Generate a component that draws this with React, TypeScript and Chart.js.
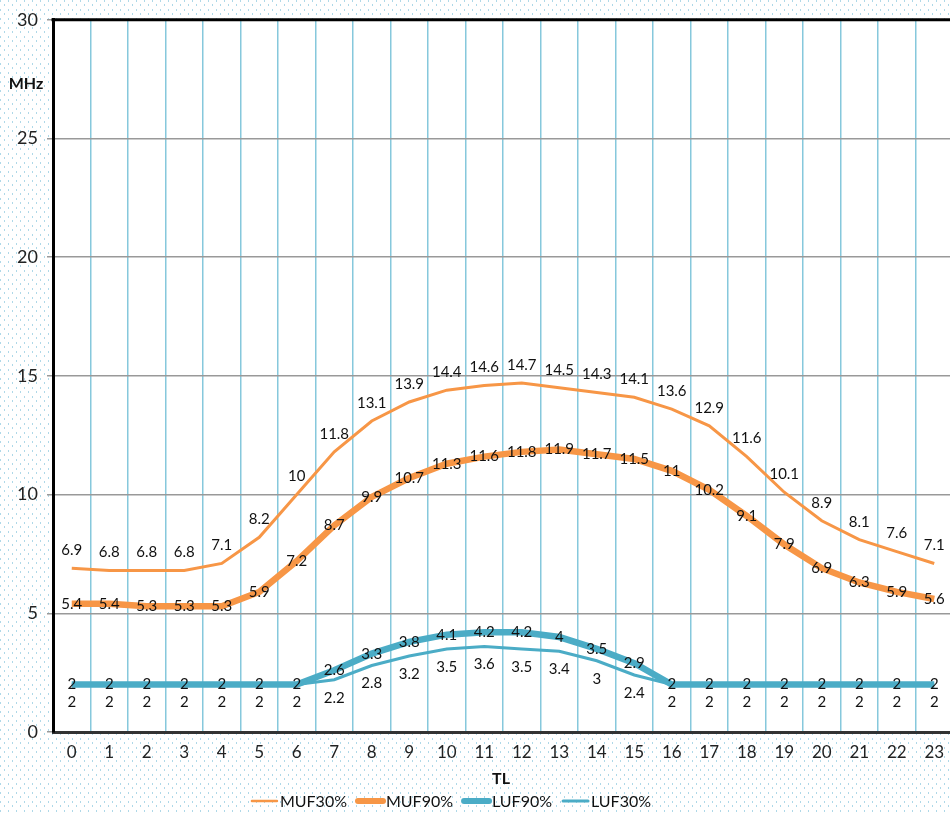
import React, { useEffect, useRef } from "react";
import { Chart, registerables } from "chart.js";

Chart.register(...registerables);

const hours = ["0","1","2","3","4","5","6","7","8","9","10","11","12","13","14","15","16","17","18","19","20","21","22","23"];
const muf30 = [6.9, 6.8, 6.8, 6.8, 7.1, 8.2, 10, 11.8, 13.1, 13.9, 14.4, 14.6, 14.7, 14.5, 14.3, 14.1, 13.6, 12.9, 11.6, 10.1, 8.9, 8.1, 7.6, 7.1];
const muf90 = [5.4, 5.4, 5.3, 5.3, 5.3, 5.9, 7.2, 8.7, 9.9, 10.7, 11.3, 11.6, 11.8, 11.9, 11.7, 11.5, 11, 10.2, 9.1, 7.9, 6.9, 6.3, 5.9, 5.6];
const luf90 = [2, 2, 2, 2, 2, 2, 2, 2.6, 3.3, 3.8, 4.1, 4.2, 4.2, 4, 3.5, 2.9, 2, 2, 2, 2, 2, 2, 2, 2];
const luf30 = [2, 2, 2, 2, 2, 2, 2, 2.2, 2.8, 3.2, 3.5, 3.6, 3.5, 3.4, 3, 2.4, 2, 2, 2, 2, 2, 2, 2, 2];
const seriesNames = ["MUF30%", "MUF90%", "LUF90%", "LUF30%"];
const yAxisTitle = "MHz";
const xAxisTitle = "TL";

const ORANGE = "#F79646";
const TEAL = "#4BACC6";
const FONT = "Lato, 'Open Sans', sans-serif";

const labelOffsets = [-18, 0, 0, 18];

function makePattern(ctx: CanvasRenderingContext2D) {
  const c = document.createElement("canvas");
  c.width = 8;
  c.height = 9;
  const p = c.getContext("2d")!;
  p.fillStyle = "#ffffff";
  p.fillRect(0, 0, 8, 9);
  p.fillStyle = "rgba(140,200,222,0.7)";
  p.fillRect(0, 0, 1, 2);
  p.fillRect(4, 4, 1, 2);
  return ctx.createPattern(c, "repeat");
}

const bgPlugin = {
  id: "bgPlugin",
  beforeDraw(chart: any) {
    const { ctx, chartArea } = chart;
    ctx.save();
    const pat = makePattern(ctx);
    if (pat) ctx.fillStyle = pat;
    ctx.fillRect(0, 0, chart.width, chart.height);
    ctx.fillStyle = "#ffffff";
    ctx.fillRect(chartArea.left, chartArea.top, chartArea.right - chartArea.left, chartArea.bottom - chartArea.top);
    ctx.restore();
  },
};

const decorPlugin = {
  id: "decorPlugin",
  afterDatasetsDraw(chart: any) {
    const { ctx, chartArea } = chart;
    ctx.save();
    ctx.strokeStyle = "#000";
    ctx.lineWidth = 3;
    ctx.beginPath();
    ctx.moveTo(chartArea.left - 1.5, chartArea.top);
    ctx.lineTo(chartArea.right, chartArea.top);
    ctx.stroke();
    ctx.font = `15px ${FONT}`;
    ctx.fillStyle = "#111";
    ctx.textAlign = "center";
    ctx.textBaseline = "middle";
    chart.data.datasets.forEach((ds: any, i: number) => {
      const meta = chart.getDatasetMeta(i);
      meta.data.forEach((el: any, j: number) => {
        ctx.fillText(String(ds.data[j]), el.x, el.y + labelOffsets[i]);
      });
    });
    ctx.restore();
  },
  afterDraw(chart: any) {
    const { ctx } = chart;
    ctx.save();
    ctx.fillStyle = "#111";
    ctx.font = `bold 16px ${FONT}`;
    ctx.textAlign = "center";
    ctx.textBaseline = "middle";
    ctx.fillText(yAxisTitle, 26, 84);
    ctx.fillText(xAxisTitle, 501, 779);
    ctx.font = `16px ${FONT}`;
    const widths = [2.5, 6, 6, 3];
    const colors = [ORANGE, ORANGE, TEAL, TEAL];
    const lineLen = 27;
    const gap = 2;
    const itemGap = 10;
    let total = 0;
    seriesNames.forEach((n, i) => {
      total += lineLen + gap + ctx.measureText(n).width + (i < seriesNames.length - 1 ? itemGap : 0);
    });
    let x = 451 - total / 2;
    const y = 801;
    ctx.textAlign = "left";
    seriesNames.forEach((n, i) => {
      ctx.strokeStyle = colors[i];
      ctx.lineWidth = widths[i];
      ctx.lineCap = "round";
      ctx.beginPath();
      ctx.moveTo(x + 1, y);
      ctx.lineTo(x + lineLen - 1, y);
      ctx.stroke();
      x += lineLen + gap;
      ctx.fillStyle = "#111";
      ctx.fillText(n, x, y + 1);
      x += ctx.measureText(n).width + itemGap;
    });
    ctx.restore();
  },
};

export default function App() {
  const ref = useRef<HTMLCanvasElement>(null);
  useEffect(() => {
    if (!ref.current) return;
    const chart = new Chart(ref.current, {
      type: "line",
      data: {
        labels: hours,
        datasets: [
          { label: seriesNames[0], data: muf30, borderColor: ORANGE, borderWidth: 3, pointRadius: 0, tension: 0 },
          { label: seriesNames[1], data: muf90, borderColor: ORANGE, borderWidth: 6.5, pointRadius: 0, tension: 0 },
          { label: seriesNames[2], data: luf90, borderColor: TEAL, borderWidth: 6.5, pointRadius: 0, tension: 0 },
          { label: seriesNames[3], data: luf30, borderColor: TEAL, borderWidth: 3, pointRadius: 0, tension: 0 },
        ],
      },
      options: {
        responsive: false,
        animation: false,
        events: [],
        layout: { padding: { left: 0, top: 16, right: 3, bottom: 0 } },
        plugins: {
          legend: { display: false },
          tooltip: { enabled: false },
          title: { display: false },
        },
        scales: {
          x: {
            offset: true,
            grid: { offset: true, color: "#86c8dc", lineWidth: 1.5, drawTicks: false },
            border: { display: true, color: "#333", width: 3 },
            ticks: { color: "#222", font: { family: FONT, size: 17 }, padding: 10 },
            afterFit(scale: any) { scale.height = 82; },
          },
          y: {
            min: 0,
            max: 30,
            ticks: { stepSize: 5, color: "#222", font: { family: FONT, size: 18 }, padding: 9 },
            grid: { color: "#999", lineWidth: 1.5, tickLength: 6, tickColor: "#999" },
            border: { display: true, color: "#000", width: 3 },
            afterFit(scale: any) { scale.width = 53; },
          },
        },
      },
      plugins: [bgPlugin, decorPlugin],
    } as any);
    return () => chart.destroy();
  }, []);
  return (
    <div style={{ position: "absolute", left: 0, top: 0, width: 950, height: 814, overflow: "hidden" }}>
      <canvas ref={ref} width={956} height={814} style={{ display: "block" }} />
    </div>
  );
}
